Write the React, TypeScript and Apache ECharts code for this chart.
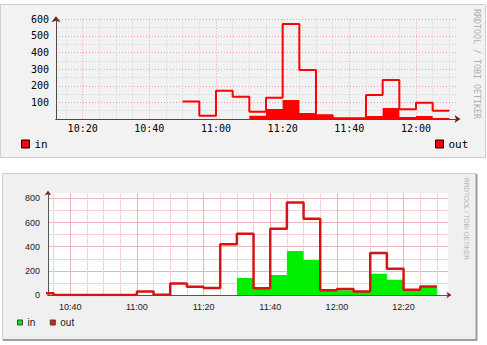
import { useEffect, useRef } from 'react';
import * as echarts from 'echarts';

// ---------- data ----------
const topXLabelTimes = ['10:20', '10:40', '11:00', '11:20', '11:40', '12:00'];
const topYLabels = [100, 200, 300, 400, 500, 600];
const topInStart = '11:10';
const topInValues = [20, 60, 114, 36, 24, 5, 5, 18, 66, 12, 18, 6];
const topOutStart = '10:50';
const topOutValues = [105, 20, 170, 134, 44, 128, 572, 295, 22, 4, 4, 145, 235, 58, 98, 50];

const bottomXLabelTimes = ['10:40', '11:00', '11:20', '11:40', '12:00', '12:20'];
const bottomYLabels = [0, 200, 400, 600, 800];
const bottomInStart = '11:30';
const bottomInValues = [140, 50, 165, 364, 289, 33, 40, 25, 176, 127, 38, 70];
const bottomOutStart = '10:30';
const bottomOutValues = [15, 0, 0, 0, 0, 0, 28, 2, 96, 69, 58, 421, 507, 55, 548, 766, 631, 39, 50, 30, 347, 218, 44, 70];

const STEP = 5;
const toMin = (s: string) => {
  const [h, m] = s.split(':').map(Number);
  return h * 60 + m;
};
const fmt = (v: number) => {
  const m = Math.round(v);
  return `${Math.floor(m / 60)}:${String(m % 60).padStart(2, '0')}`;
};
const stepData = (start: string, values: number[]) => {
  const t0 = toMin(start);
  const pts = values.map((v, i) => [t0 + i * STEP, v]);
  pts.push([t0 + values.length * STEP, values[values.length - 1]]);
  return pts;
};
const range = (a: number, b: number, s: number) => {
  const out: number[] = [];
  for (let v = a; v <= b + 1e-9; v += s) out.push(v);
  return out;
};

const TOP_MIN = toMin('10:12');
const TOP_MAX = toMin('12:12');
const BOT_MIN = toMin('10:33') + 1 / 3;
const BOT_MAX = BOT_MIN + 120;

const MONO = 'DejaVu Sans Mono';
const SANS = 'Liberation Sans';

const topGridRed = '#eda3a3';
const topGridGray = '#d0d0d0';
const botMajor = '#e9b4b4';
const botMinor = '#f3d2d2';
const arrowColor = '#7a1c1c';

const buildOption = () => ({
  animation: false,
  grid: [
    { left: 56, top: 19.33, width: 400, height: 99.67, show: false, containLabel: false, outerBoundsMode: 'none' },
    { left: 48, top: 193.5, width: 400, height: 101.5, show: true, backgroundColor: '#ffffff', borderWidth: 0, containLabel: false, outerBoundsMode: 'none' },
  ],
  xAxis: [
    {
      type: 'value', gridIndex: 0, min: TOP_MIN, max: TOP_MAX, position: 'bottom', z: 1,
      axisLine: { show: true, onZero: false, lineStyle: { color: '#4a4a4a', width: 1 } },
      axisTick: { show: false, customValues: range(615, 730, 5) },
      axisLabel: { customValues: topXLabelTimes.map(toMin), formatter: fmt, margin: 4, fontFamily: MONO, fontSize: 10, color: '#000' },
      splitLine: { show: true, lineStyle: { color: [topGridGray, topGridRed, topGridGray, topGridGray], type: [1, 2], width: 1 } },
    },
    {
      type: 'value', gridIndex: 0, min: TOP_MIN, max: TOP_MAX, position: 'bottom', z: 0,
      axisLine: { show: true, onZero: false, symbol: ['none', 'arrow'], symbolSize: [6, 6], symbolOffset: [0, 4.5], lineStyle: { color: arrowColor, width: 1 } },
      axisTick: { show: false }, axisLabel: { show: false }, splitLine: { show: false },
    },
    {
      type: 'value', gridIndex: 1, min: BOT_MIN, max: BOT_MAX, position: 'bottom', z: 1,
      axisLine: { show: true, onZero: false, lineStyle: { color: '#555', width: 1 } },
      axisTick: { show: false, customValues: range(635, 750, 5) },
      axisLabel: { customValues: bottomXLabelTimes.map(toMin), formatter: fmt, margin: 7, fontFamily: SANS, fontSize: 9, color: '#222' },
      splitLine: { show: true, lineStyle: { color: [botMinor, botMajor, botMinor, botMinor], width: 1 } },
    },
    {
      type: 'value', gridIndex: 1, min: BOT_MIN, max: BOT_MAX, position: 'bottom', z: 0,
      axisLine: { show: true, onZero: false, symbol: ['none', 'arrow'], symbolSize: [5, 5], symbolOffset: [0, 3.5], lineStyle: { color: arrowColor, width: 1 } },
      axisTick: { show: false }, axisLabel: { show: false }, splitLine: { show: false },
    },
  ],
  yAxis: [
    {
      type: 'value', gridIndex: 0, min: 0, max: 600, position: 'left', z: 1,
      axisLine: { show: true, onZero: false, lineStyle: { color: '#4a4a4a', width: 1 } },
      axisTick: { show: false, customValues: range(0, 600, 50) },
      axisLabel: { customValues: topYLabels, margin: 7, fontFamily: MONO, fontSize: 10, color: '#000' },
      splitLine: { show: true, lineStyle: { color: [topGridRed, topGridGray], type: [1, 2], width: 1 } },
    },
    {
      type: 'value', gridIndex: 0, min: 0, max: 600, position: 'left', z: 0,
      axisLine: { show: true, onZero: false, symbol: ['none', 'arrow'], symbolSize: [7, 6], symbolOffset: [0, 3], lineStyle: { color: arrowColor, width: 1 } },
      axisTick: { show: false }, axisLabel: { show: false }, splitLine: { show: false },
    },
    {
      type: 'value', gridIndex: 1, min: 0, max: 840, position: 'left', z: 1,
      axisLine: { show: true, onZero: false, lineStyle: { color: '#555', width: 1 } },
      axisTick: { show: false, customValues: range(0, 800, 100) },
      axisLabel: { customValues: bottomYLabels, margin: 8, fontFamily: SANS, fontSize: 9, color: '#222' },
      splitLine: { show: true, lineStyle: { color: [botMajor, botMinor], width: 1 } },
    },
    {
      type: 'value', gridIndex: 1, min: 0, max: 840, position: 'left', z: 0,
      axisLine: { show: true, onZero: false, symbol: ['none', 'arrow'], symbolSize: [5, 5], symbolOffset: [0, 3], lineStyle: { color: arrowColor, width: 1 } },
      axisTick: { show: false }, axisLabel: { show: false }, splitLine: { show: false },
    },
  ],
  legend: [
    {
      left: 21, top: 138.5, padding: 0, itemWidth: 8, itemHeight: 8, icon: 'rect', selectedMode: false,
      data: ['in'], itemStyle: { borderColor: '#000', borderWidth: 1 },
      textStyle: { fontFamily: MONO, fontSize: 11, color: '#000' },
    },
    {
      left: 435, top: 138.5, padding: 0, itemWidth: 8, itemHeight: 8, icon: 'rect', selectedMode: false,
      data: ['out'], itemStyle: { borderColor: '#000', borderWidth: 1 },
      textStyle: { fontFamily: MONO, fontSize: 11, color: '#000' },
    },
    {
      left: 17, top: 317.5, padding: 0, itemWidth: 5, itemHeight: 5, itemGap: 14.5, icon: 'rect', selectedMode: false,
      data: [
        { name: 'bottom-in', itemStyle: { color: '#00ee00' } },
        { name: 'bottom-out', itemStyle: { color: '#ff1010' } },
      ],
      formatter: (n: string) => n.replace('bottom-', ''),
      itemStyle: { borderColor: '#444', borderWidth: 1 },
      textStyle: { fontFamily: SANS, fontSize: 10, color: '#222' },
    },
  ],
  series: [
    {
      name: 'in', type: 'line', xAxisIndex: 0, yAxisIndex: 0, step: 'end', symbol: 'none', z: 2,
      color: '#ff0000', lineStyle: { width: 0, color: '#ff0000' }, areaStyle: { color: '#ff0000', opacity: 1 },
      data: stepData(topInStart, topInValues),
    },
    {
      name: 'out', type: 'line', xAxisIndex: 0, yAxisIndex: 0, step: 'end', symbol: 'none', z: 3,
      color: '#ff0000', lineStyle: { width: 2, color: '#ff0000' },
      data: stepData(topOutStart, topOutValues),
    },
    {
      name: 'bottom-in', type: 'line', xAxisIndex: 2, yAxisIndex: 2, step: 'end', symbol: 'none', z: 2,
      color: '#00ee00', lineStyle: { width: 0, color: '#00ee00' }, areaStyle: { color: '#00ee00', opacity: 1 },
      data: stepData(bottomInStart, bottomInValues),
    },
    {
      name: 'bottom-out', type: 'line', xAxisIndex: 2, yAxisIndex: 2, step: 'end', symbol: 'none', z: 3,
      color: '#f01010', lineStyle: { width: 2.5, color: '#d81313' },
      data: stepData(bottomOutStart, bottomOutValues),
    },
  ],
  graphic: [
    { type: 'rect', z: -10, shape: { x: 0.5, y: 4.5, width: 485, height: 153 }, style: { fill: '#f2f2f2', stroke: '#cdcdcd', lineWidth: 1 } },
    { type: 'rect', z: -10, shape: { x: 2.5, y: 173.5, width: 474, height: 166 }, style: { fill: '#f0f0f0', stroke: '#cfcfcf', lineWidth: 1 } },
    { type: 'polyline', z: -9, shape: { points: [[476.5, 174], [476.5, 340], [3, 340]] }, style: { stroke: '#9e9e9e', lineWidth: 2, fill: null } },
    {
      type: 'text', z: 5, x: 477, y: 64, rotation: -Math.PI / 2,
      style: { text: 'RRDTOOL / TOBI OETIKER', fill: '#b0b0b0', fontFamily: MONO, fontSize: 8.3, align: 'center', verticalAlign: 'middle' },
    },
    {
      type: 'text', z: 5, x: 466.5, y: 219, rotation: -Math.PI / 2,
      style: { text: 'RRDTOOL / TOBI OETIKER', fill: '#b8b8b8', fontFamily: SANS, fontSize: 6.5, align: 'center', verticalAlign: 'middle' },
    },
  ],
});

export default function App() {
  const ref = useRef<HTMLDivElement>(null);
  useEffect(() => {
    if (!ref.current) return;
    const chart = echarts.init(ref.current, null, { renderer: 'svg' });
    chart.setOption(buildOption() as any);
    return () => chart.dispose();
  }, []);
  return (
    <div
      ref={ref}
      style={{ position: 'absolute', left: 0, top: 0, width: 487, height: 345, background: '#ffffff' }}
    />
  );
}
